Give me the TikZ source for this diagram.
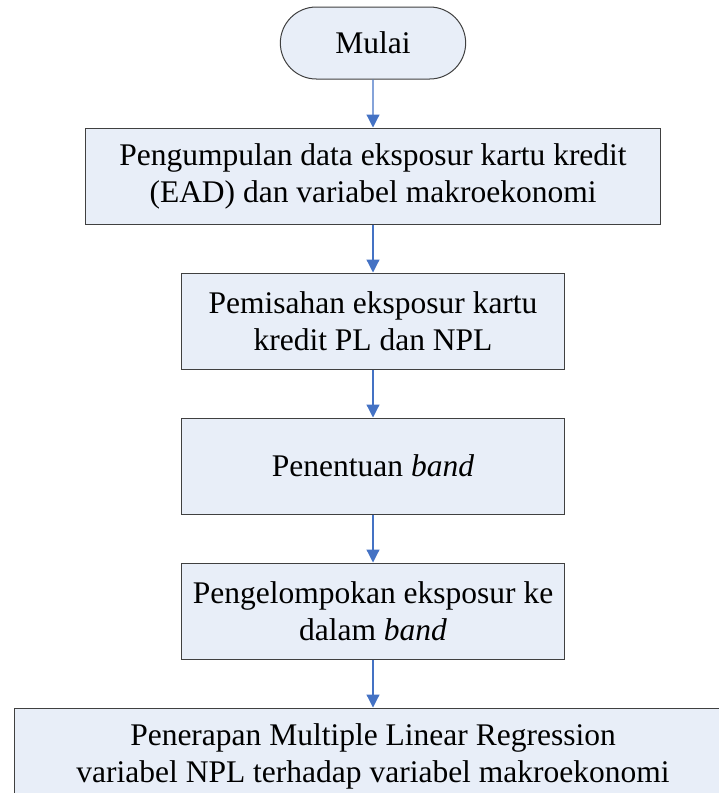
\documentclass[tikz,border=0pt]{standalone}
\usepackage{fontspec}
\setmainfont{Liberation Serif}
\usetikzlibrary{positioning, arrows.meta, shapes.misc}

\definecolor{boxfill}{RGB}{232,238,248}
\definecolor{boxline}{RGB}{64,64,64}
\definecolor{flowblue}{RGB}{68,114,196}

\begin{document}
\begin{tikzpicture}[x=1pt, y=1pt, node distance=48pt,
    every node/.style={font=\fontsize{31.5}{37}\selectfont, align=center},
    terminal/.style={rounded rectangle, draw=boxline, line width=1pt, fill=boxfill,
        minimum width=192pt, minimum height=72pt},
    process/.style={rectangle, draw=boxline, line width=1pt, fill=boxfill,
        minimum height=96pt, inner sep=0pt},
    flow/.style={draw=flowblue, line width=1.2pt, -{Triangle[length=13pt, width=13pt]}}]
    \useasboundingbox (0,0) rectangle (719,-793);
    \clip (0,0) rectangle (719,-793);

    % start
    \node[terminal] (mulai) at (373,-43) {Mulai};

    % process steps
    \node[process, minimum width=575pt, below=of mulai] (kumpul)
        {Pengumpulan data eksposur kartu kredit\\(EAD) dan variabel makroekonomi};
    \node[process, minimum width=383pt, below=of kumpul] (pisah)
        {Pemisahan eksposur kartu\\kredit PL dan NPL};
    \node[process, minimum width=383pt, below=of pisah] (tentu)
        {Penentuan \textit{band}};
    \node[process, minimum width=383pt, below=of tentu] (kelompok)
        {Pengelompokan eksposur ke\\dalam \textit{band}};
    \node[process, minimum width=718pt, below=of kelompok] (regresi)
        {Penerapan Multiple Linear Regression\\variabel NPL terhadap variabel makroekonomi};

    % connectors
    \foreach \a/\b in {mulai/kumpul, kumpul/pisah, pisah/tentu, tentu/kelompok, kelompok/regresi}
        \draw[flow] (\a) -- (\b);
\end{tikzpicture}
\end{document}
